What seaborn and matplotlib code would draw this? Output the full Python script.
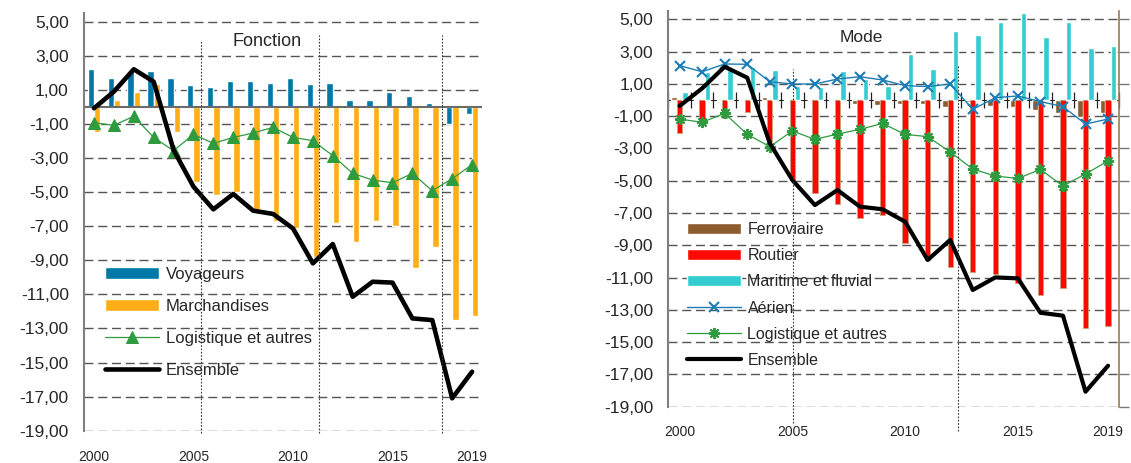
import numpy as np
import pandas as pd
import matplotlib
matplotlib.use("Agg")
import matplotlib.pyplot as plt
import seaborn as sns
from matplotlib.ticker import FuncFormatter

years = [str(y) for y in range(2000, 2020)]

# Fonction
voyageurs = [2.22, 1.71, 2.10, 2.13, 1.71, 1.28, 1.19, 1.54, 1.54, 1.42,
             1.71, 1.34, 1.42, 0.40, 0.40, 0.87, 0.64, 0.23, -1.00, -0.40]
marchandises = [-1.46, 0.40, 0.87, 1.34, -1.46, -4.39, -5.17, -4.99, -6.05, -6.72,
                -7.10, -8.79, -6.79, -7.91, -6.70, -6.99, -9.47, -8.20, -12.51, -12.25]
logistique_f = [-0.93, -1.08, -0.55, -1.79, -2.57, -1.61, -2.14, -1.79, -1.53, -1.20,
                -1.79, -1.98, -2.86, -3.90, -4.29, -4.45, -3.90, -4.92, -4.21, -3.39]
ensemble_f = [-0.08, 0.90, 2.21, 1.48, -2.53, -4.68, -6.01, -5.11, -6.09, -6.28,
              -7.13, -9.18, -8.05, -11.14, -10.26, -10.31, -12.41, -12.51, -17.10, -15.54]

# Mode
ferroviaire = [0.20, -0.05, -0.05, -0.08, 0.20, 0.05, 0.02, -0.05, -0.24, -0.32,
               -0.25, -0.25, -0.41, -0.10, -0.37, -0.41, -0.62, -0.78, -1.03, -0.78]
routier = [-2.07, -1.55, -1.14, -0.72, -2.60, -4.96, -5.78, -6.44, -7.30, -7.12,
           -8.88, -9.91, -10.33, -10.68, -10.80, -11.36, -12.08, -11.63, -14.15, -14.00]
maritime = [0.52, 1.75, 1.86, 2.02, 1.86, 0.87, 0.79, 1.80, 1.28, 0.89,
            2.83, 1.92, 4.27, 4.01, 4.83, 5.37, 3.92, 4.83, 3.20, 3.35]
aerien = [2.13, 1.75, 2.23, 2.21, 1.13, 0.99, 0.99, 1.30, 1.44, 1.24,
          0.89, 0.83, 0.99, -0.58, 0.14, 0.25, -0.10, -0.41, -1.49, -1.18]
logistique_m = [-1.18, -1.38, -0.83, -2.13, -2.89, -1.92, -2.44, -2.11, -1.82, -1.45,
                -2.13, -2.27, -3.22, -4.28, -4.71, -4.86, -4.30, -5.33, -4.58, -3.78]
ensemble_m = [-0.37, 0.72, 2.06, 1.38, -2.68, -4.96, -6.51, -5.58, -6.61, -6.77,
              -7.54, -9.91, -8.67, -11.77, -10.99, -11.05, -13.18, -13.36, -18.07, -16.46]

tick_years = ["2000", "2005", "2010", "2015", "2019"]
sep_fonction = [5.38, 11.32, 17.47]
sep_mode = [5.04, 12.36]

sns.set_style("white")
plt.rcParams["font.family"] = ["Liberation Sans", "DejaVu Sans"]

fig = plt.figure(figsize=(11.31, 4.63), dpi=100)
ax1 = fig.add_axes([0.0743, 0.0698, 0.3519, 0.9017])
ax2 = fig.add_axes([0.5909, 0.1216, 0.3988, 0.8542])

pos = np.arange(len(years))
fmt = FuncFormatter(lambda v, p: f"{v:.2f}".replace(".", ","))
grid_ls = (0, (6.5, 3.4))


def style_axes(ax, xpad):
    ax.set_xlim(-0.5, 19.5)
    ax.set_ylim(-19, 5.5)
    ax.set_yticks(np.arange(-19, 6, 2))
    ax.yaxis.set_major_formatter(fmt)
    ax.set_xticks([years.index(t) for t in tick_years], tick_years)
    ax.tick_params(axis="x", length=0, pad=xpad, labelsize=10)
    ax.tick_params(axis="y", length=7, width=1, color="#777777", pad=4, labelsize=12.5)
    ax.grid(axis="y", ls=grid_ls, color="#555555", lw=1)
    ax.grid(axis="x", visible=False)
    ax.set_axisbelow(True)
    for s in ["top", "right", "bottom"]:
        ax.spines[s].set_visible(False)
    ax.spines["left"].set_color("#808080")
    ax.spines["left"].set_linewidth(1.5)
    ax.set_xlabel("")
    ax.set_ylabel("")


# ---- Fonction
df_f = pd.DataFrame({"annee": years * 2,
                     "valeur": voyageurs + marchandises,
                     "serie": ["Voyageurs"] * 20 + ["Marchandises"] * 20})
sns.barplot(data=df_f, x="annee", y="valeur", hue="serie", width=0.64, saturation=1,
            palette={"Voyageurs": "#0078A8", "Marchandises": "#FFAE17"}, ax=ax1)
ax1.axhline(0, color="#6b6b6b", lw=1.5, zorder=1.5)
sns.lineplot(x=pos, y=logistique_f, color="#2E9B3E", lw=0.9, marker="^", markersize=8,
             markeredgecolor="#2E9B3E", label="Logistique et autres", ax=ax1)
sns.lineplot(x=pos, y=ensemble_f, color="black", lw=3.3, label="Ensemble", ax=ax1)
style_axes(ax1, 14)
for i, x in enumerate(sep_fonction):
    ax1.axvline(x, ymin=-0.006, ymax=0.935 if i == 0 else 0.948, color="#333333",
                ls=(0, (1.5, 1.5)), lw=0.8, clip_on=False)
ax1.text(0.46, 0.932, "Fonction", transform=ax1.transAxes, ha="center", va="center",
         fontsize=13)
h, l = ax1.get_legend_handles_labels()
ax1.legend(h, l, loc="upper left", bbox_to_anchor=(0.053, 0.392), frameon=False,
           borderpad=0, borderaxespad=0, fontsize=12, handlelength=3.25,
           handletextpad=0.4, labelspacing=1.02)

# ---- Mode
df_m = pd.DataFrame({"annee": years * 3,
                     "valeur": ferroviaire + routier + maritime,
                     "serie": ["Ferroviaire"] * 20 + ["Routier"] * 20 + ["Maritime et fluvial"] * 20})
sns.barplot(data=df_m, x="annee", y="valeur", hue="serie", width=0.72, saturation=1,
            palette={"Ferroviaire": "#8C5B2E", "Routier": "#FF0A00",
                     "Maritime et fluvial": "#33CCD0"}, ax=ax2)
for bar in ax2.containers[1]:
    bar.set_edgecolor("#C9A27E")
    bar.set_linewidth(0.6)
sns.lineplot(x=pos, y=aerien, color="#1C7DB6", lw=1, marker="x", markersize=7,
             markeredgewidth=1.5, markeredgecolor="#1C7DB6", label="Aérien", ax=ax2)
sns.lineplot(x=pos, y=logistique_m, color="#2E9B3E", lw=0.9, marker=(8, 2, 0), markersize=8,
             markeredgewidth=1.4, markeredgecolor="#2E9B3E", label="Logistique et autres", ax=ax2)
sns.lineplot(x=pos, y=ensemble_m, color="black", lw=3, label="Ensemble", ax=ax2)
style_axes(ax2, 13)
ax2.spines["right"].set_visible(True)
ax2.spines["right"].set_color("#A07A52")
ax2.spines["right"].set_linewidth(1.2)
ax2.tick_params(axis="y", right=True)
for t in ax2.yaxis.get_major_ticks():
    t.tick2line.set_color("#A07A52")
    t.tick2line.set_markersize(7)

zero_frac = (0 - ax2.get_ylim()[0]) / (ax2.get_ylim()[1] - ax2.get_ylim()[0])
sec = ax2.secondary_xaxis(zero_frac)
sec.set_xticks(np.arange(-0.5, 20, 1), [""] * 21)
sec.tick_params(direction="inout", length=12, width=0.9, color="#222222")
sec.spines["bottom"].set_color("#6b6b6b")
sec.spines["bottom"].set_linewidth(1.3)

for i, x in enumerate(sep_mode):
    ax2.axvline(x, ymin=-0.041 if i == 0 else -0.061, ymax=0.855 if i == 0 else 0.861,
                color="#333333", ls=(0, (1.5, 1.5)), lw=0.8, clip_on=False)
ax2.text(0.427, 0.933, "Mode", transform=ax2.transAxes, ha="center", va="center",
         fontsize=12.5)
h, l = ax2.get_legend_handles_labels()
ax2.legend(h, l, loc="upper left", bbox_to_anchor=(0.041, 0.467), frameon=False,
           borderpad=0, borderaxespad=0, fontsize=11.5, handlelength=3.4,
           handletextpad=0.4, labelspacing=0.7)

fig.savefig("out.png", dpi=100)
